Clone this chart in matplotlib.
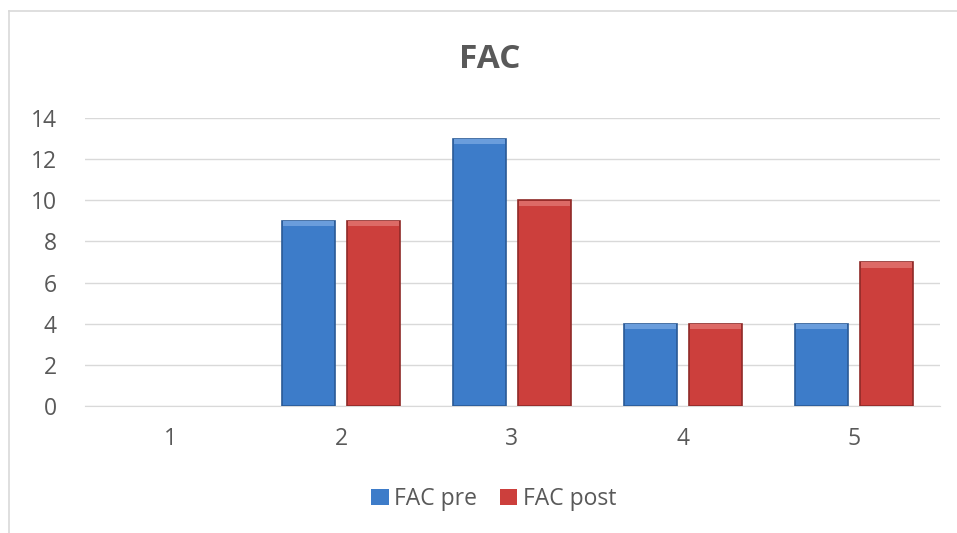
import matplotlib
matplotlib.use("Agg")
import matplotlib.pyplot as plt
from matplotlib.lines import Line2D
import numpy as np

categories = ["1", "2", "3", "4", "5"]
pre = [0, 9, 13, 4, 4]
post = [0, 9, 10, 4, 7]
series_names = ["FAC pre", "FAC post"]
yticks = [0, 2, 4, 6, 8, 10, 12, 14]

plt.rcParams['font.family'] = ['Open Sans', 'DejaVu Sans']

W, H = 957, 533
fig = plt.figure(figsize=(W/100, H/100), dpi=100)
ax = fig.add_axes([84.5/W, 1-406/H, (939.5-84.5)/W, (406-118)/H])

x = np.arange(len(categories))
bw = 0.31
off = 0.19
blue = "#3d7cc9"
red = "#cc3f3c"
lw_pre = [0 if v == 0 else 1.2 for v in pre]
lw_post = [0 if v == 0 else 1.2 for v in post]
bp = ax.bar(x - off, pre, bw, color=blue, edgecolor="#2a5a96", linewidth=lw_pre, zorder=3)
rp = ax.bar(x + off, post, bw, color=red, edgecolor="#8f2a28", linewidth=lw_post, zorder=3)

# bevel-ish highlight on top of bars
for bars, hl in ((bp, "#6a9ddc"), (rp, "#dd6a66")):
    for b in bars:
        h = b.get_height()
        if h <= 0:
            continue
        ax.bar(b.get_x() + b.get_width()/2, 0.25, b.get_width()*0.96,
               bottom=h - 0.27, color=hl, linewidth=0, zorder=4)

ax.set_xlim(-0.5, len(categories) - 0.5)
ax.set_ylim(0, 14)
ax.set_yticks(yticks)
ax.set_xticks(x)
ax.set_xticklabels(categories)
ax.yaxis.grid(True, color="#d9d9d9", linewidth=1)
ax.set_axisbelow(True)
for s in ax.spines.values():
    s.set_visible(False)
ax.spines['bottom'].set_visible(True)
ax.spines['bottom'].set_color("#d9d9d9")
ax.tick_params(length=0, labelsize=16.5, colors="#595959")
ax.tick_params(axis='y', pad=20)
ax.tick_params(axis='x', pad=15)

fig.text(490/W, 1-59/H, "FAC", ha="center", va="center", fontsize=24,
         fontweight="bold", color="#595959")

leg = fig.legend([bp, rp], series_names, loc="center", bbox_to_anchor=(494/W, 1-499/H),
                 ncol=2, frameon=False, fontsize=16.5, handlelength=0.75, handleheight=0.75,
                 columnspacing=1.0, handletextpad=0.25, labelcolor="#595959")

fig.add_artist(Line2D([9/W, 9/W], [0, 1-11/H], color="#d9d9d9", linewidth=1.2))
fig.add_artist(Line2D([9/W, 1], [1-11/H, 1-11/H], color="#d9d9d9", linewidth=1.2))

fig.savefig("out.png", dpi=100)
